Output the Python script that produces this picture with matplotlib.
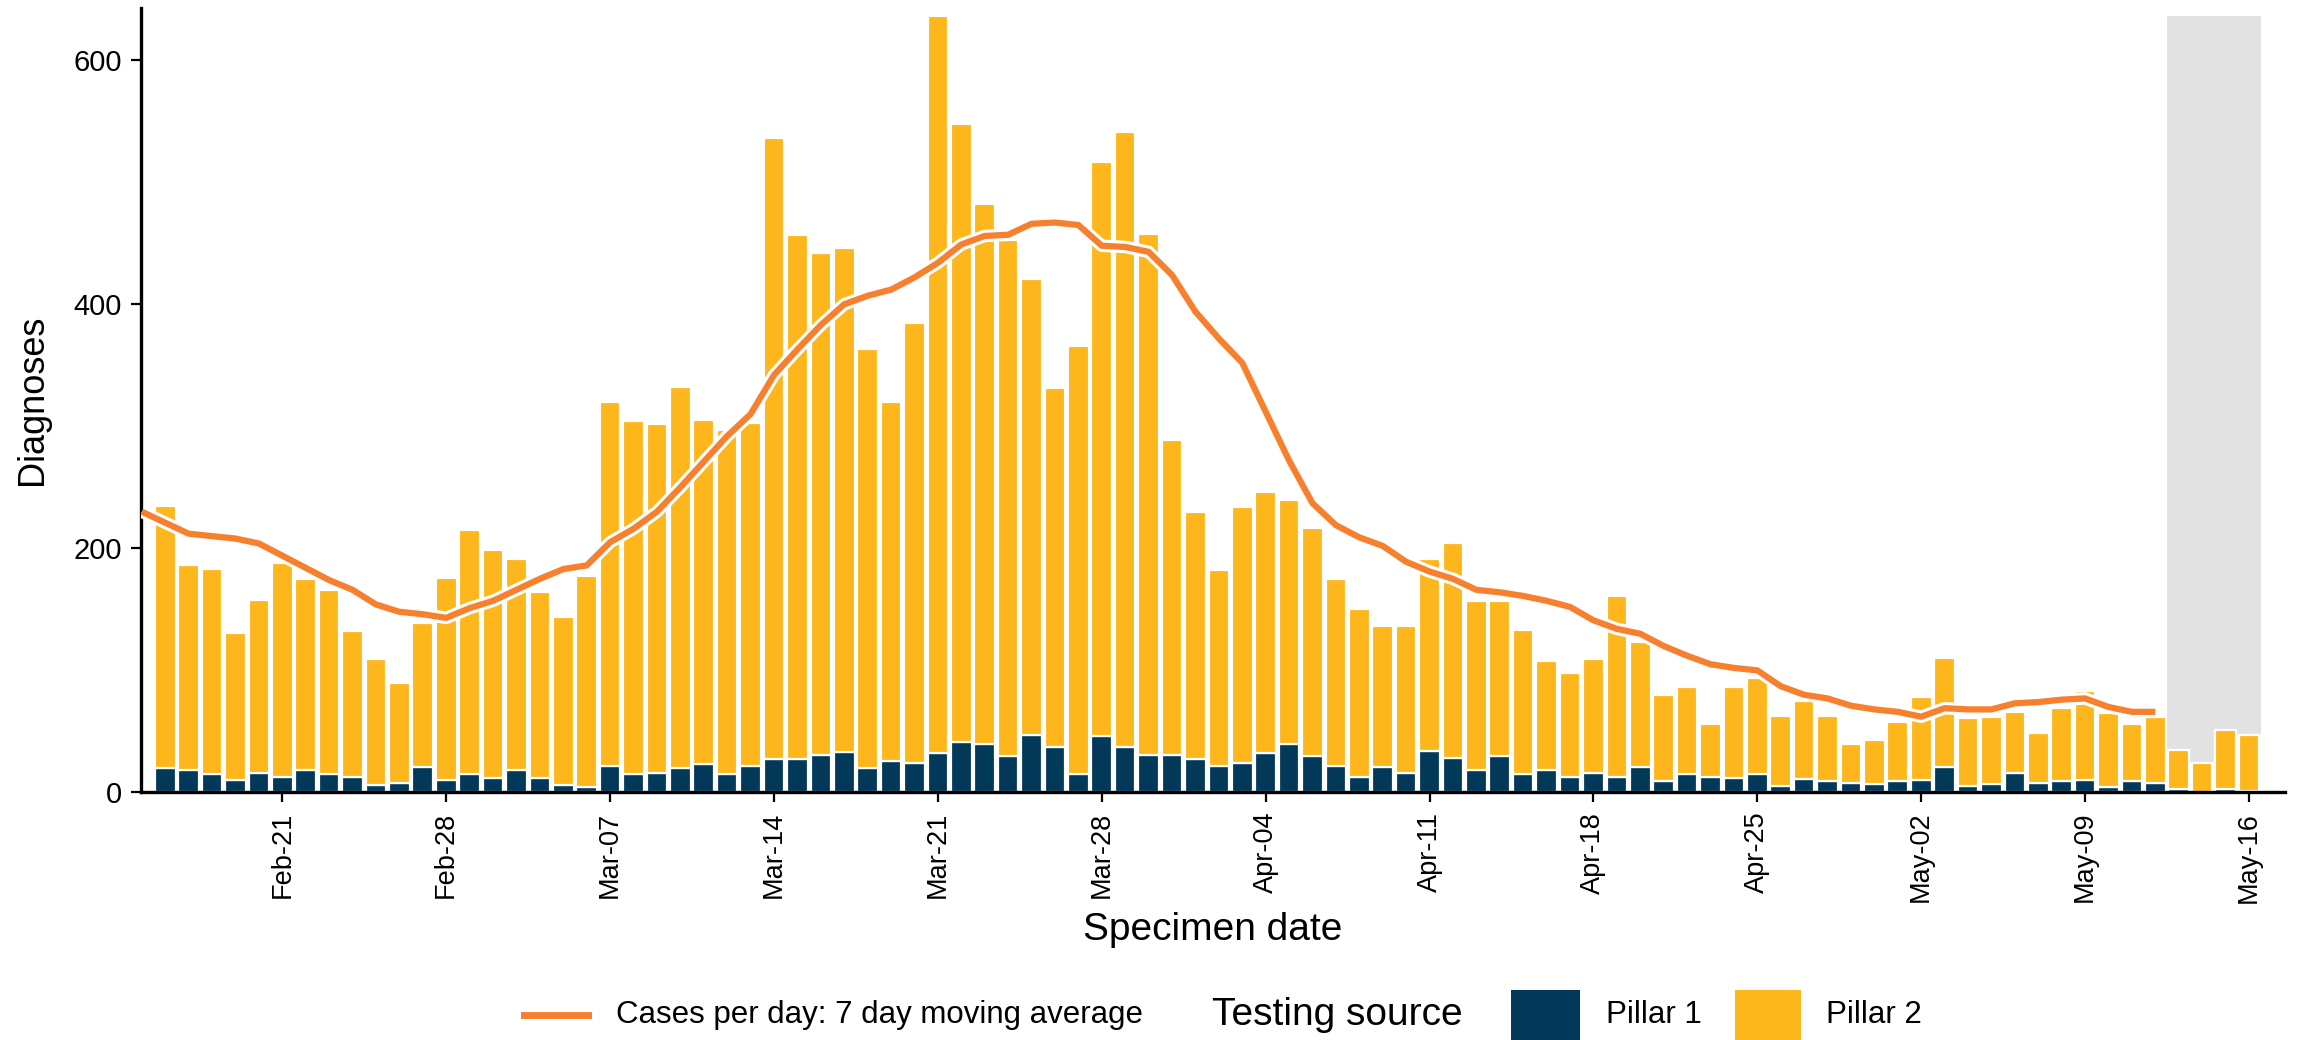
import matplotlib
matplotlib.use("Agg")
import matplotlib.pyplot as plt
import matplotlib.dates as mdates
import matplotlib.patheffects as pe
from matplotlib.lines import Line2D
from matplotlib.patches import Rectangle
import pandas as pd
import numpy as np

plt.rcParams['font.family'] = ['Liberation Sans', 'DejaVu Sans']

# daily diagnoses by specimen date, 16 Feb - 16 May 2021
dates = pd.date_range('2021-02-16', periods=90)
pillar1 = [20, 18, 15, 10, 16, 13, 18, 15, 13, 6,
           8, 21, 10, 15, 12, 18, 12, 6, 4, 22,
           15, 16, 20, 23, 15, 22, 27, 27, 31, 33,
           20, 26, 24, 32, 41, 40, 30, 47, 37, 15,
           46, 37, 31, 31, 27, 22, 24, 32, 40, 30,
           22, 13, 21, 16, 34, 28, 18, 30, 15, 18,
           13, 16, 13, 21, 9, 15, 13, 12, 15, 5,
           11, 9, 8, 7, 9, 10, 21, 5, 7, 16,
           8, 9, 10, 4, 9, 8, 3, 0, 3, 1]
pillar2 = [215, 168, 168, 121, 142, 175, 157, 151, 119, 103,
           82, 118, 166, 200, 187, 173, 152, 138, 173, 298,
           289, 286, 312, 282, 282, 281, 509, 430, 411, 413,
           343, 294, 361, 604, 507, 442, 423, 374, 294, 351,
           471, 504, 427, 258, 203, 160, 210, 214, 200, 187,
           153, 137, 115, 120, 157, 176, 139, 127, 118, 90,
           85, 93, 148, 102, 71, 71, 43, 74, 79, 58,
           64, 54, 32, 36, 49, 68, 89, 56, 55, 50,
           41, 60, 73, 61, 47, 54, 32, 24, 48, 46]

# 7 day moving average, 15 Feb - 12 May 2021
avg_dates = pd.date_range('2021-02-15', periods=87)
avg_cases = [230, 221, 212, 210, 208, 204, 194, 184, 174, 166,
             154, 148, 146, 143, 151, 157, 166, 175, 183, 186,
             205, 216, 230, 250, 271, 292, 310, 342, 363, 383,
             400, 407, 412, 422, 434, 449, 456, 457, 466, 467,
             465, 448, 447, 443, 424, 394, 372, 352, 312, 272,
             237, 219, 209, 202, 189, 181, 175, 166, 164, 161,
             157, 152, 141, 134, 130, 120, 112, 105, 102, 100,
             87, 80, 77, 71, 68, 66, 62, 69, 68, 68,
             73, 74, 76, 77, 70, 66, 66]

n_incomplete = 4  # last days with incomplete data

navy = '#023858'
yellow = '#FDB71C'
orange = '#F7802F'
grey = '#E2E2E2'

p1 = np.array(pillar1)
p2 = np.array(pillar2)
total = p1 + p2

fig = plt.figure(figsize=(23, 10.4), dpi=100)
ax = fig.add_axes([0.0612, 0.2381, 0.9323, 0.7544])

# shaded incomplete period
top = total.max()
ax.bar(dates[-n_incomplete:], top - total[-n_incomplete:], bottom=total[-n_incomplete:],
       width=1.0, color=grey, linewidth=0, zorder=0)

ax.bar(dates, p1, width=0.88, color=navy, edgecolor='white', linewidth=1.6, zorder=2)
ax.bar(dates, p2, bottom=p1, width=0.88, color=yellow, edgecolor='white', linewidth=1.6, zorder=2)

ax.plot(avg_dates, avg_cases, color=orange, linewidth=4.5, zorder=3,
        solid_capstyle='butt',
        path_effects=[pe.Stroke(linewidth=9, foreground='white'), pe.Normal()])

start = mdates.date2num(dates[0])
ax.set_xlim(start - 1.046, start + 90.54)
ax.set_ylim(0, 643)

ax.set_yticks([0, 200, 400, 600])
ax.set_xticks(pd.date_range('2021-02-21', '2021-05-16', freq='7D'))
ax.xaxis.set_major_formatter(mdates.DateFormatter('%b-%d'))
for lab in ax.get_xticklabels():
    lab.set_rotation(90)
    lab.set_ha('center')
    lab.set_va('top')

ax.tick_params(axis='x', labelsize=19.5, length=7, width=1.6, pad=7, colors='black')
ax.tick_params(axis='y', labelsize=21, length=7, width=1.6, pad=6.5, colors='black')

for s in ['top', 'right']:
    ax.spines[s].set_visible(False)
for s in ['left', 'bottom']:
    ax.spines[s].set_linewidth(2.4)
    ax.spines[s].set_color('black')

ax.set_ylabel('Diagnoses', fontsize=26, va='center')
ax.yaxis.set_label_coords(-0.0507, 0.5)
ax.set_xlabel('Specimen date', fontsize=28, va='center')
ax.xaxis.set_label_coords(0.5, -0.1754)

# legend along the bottom
W, H = 2300.0, 1040.0
ly = 1 - 1015 / H
fig.add_artist(Line2D([524 / W, 588 / W], [ly, ly], color=orange, linewidth=5,
                      transform=fig.transFigure))
fig.text(616 / W, ly, 'Cases per day: 7 day moving average', fontsize=22.5,
         va='center', ha='left')
fig.text(1212 / W, ly, 'Testing source', fontsize=28, va='center', ha='left')
fig.add_artist(Rectangle((1511 / W, -0.01), 69 / W, 0.01 + 1 - 990 / H,
                         facecolor=navy, edgecolor='none', transform=fig.transFigure))
fig.text(1606 / W, ly, 'Pillar 1', fontsize=22.5, va='center', ha='left')
fig.add_artist(Rectangle((1735 / W, -0.01), 66 / W, 0.01 + 1 - 990 / H,
                         facecolor=yellow, edgecolor='none', transform=fig.transFigure))
fig.text(1826 / W, ly, 'Pillar 2', fontsize=22.5, va='center', ha='left')

fig.savefig('out.png', dpi=100, facecolor='white')
